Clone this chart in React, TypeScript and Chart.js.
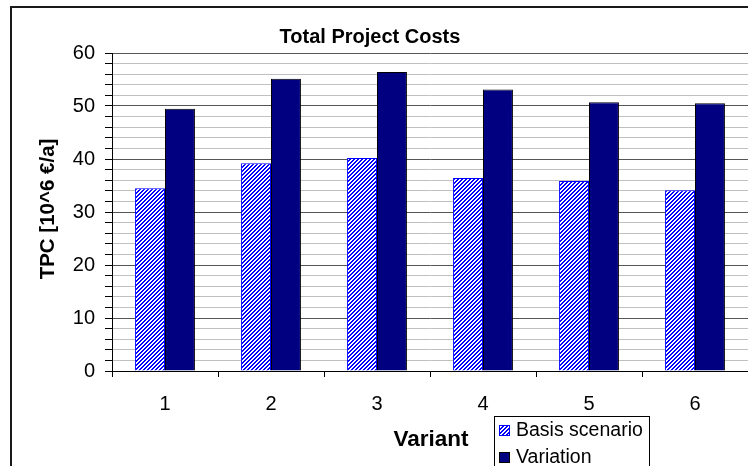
import React, { useEffect, useRef } from "react";
import { Chart, registerables } from "chart.js";

Chart.register(...registerables);

const categories = ["1", "2", "3", "4", "5", "6"];
const basisScenario = [34.5, 39.2, 40.2, 36.4, 35.85, 34.1];
const variation = [49.5, 55.15, 56.4, 53.1, 50.7, 50.5];
const seriesNames = ["Basis scenario", "Variation"];
const chartTitle = "Total Project Costs";
const xTitle = "Variant";
const yTitle = "TPC [10^6 €/a]";
const yMin = 0;
const yMax = 60;
const yStep = 2;
const yLabelStep = 10;

const FONT = "'Liberation Sans', Arial, sans-serif";
const NAVY = "#000080";
const BLUE = "#0000ff";

function makeHatch(): CanvasPattern | string {
  const tile = document.createElement("canvas");
  tile.width = 4;
  tile.height = 4;
  const c = tile.getContext("2d");
  if (!c) return BLUE;
  const img = c.createImageData(4, 4);
  for (let y = 0; y < 4; y++) {
    for (let x = 0; x < 4; x++) {
      const i = (y * 4 + x) * 4;
      const on = (x + y) % 4 < 2;
      img.data[i] = on ? 0 : 255;
      img.data[i + 1] = on ? 0 : 255;
      img.data[i + 2] = 255;
      img.data[i + 3] = 255;
    }
  }
  c.putImageData(img, 0, 0);
  const p = c.createPattern(tile, "repeat");
  return p || BLUE;
}

export default function App() {
  const ref = useRef<HTMLCanvasElement | null>(null);

  useEffect(() => {
    const canvas = ref.current;
    if (!canvas) return;
    const hatch = makeHatch();

    const decor = {
      id: "decor",
      beforeDraw(chart: any) {
        const ctx = chart.ctx;
        ctx.save();
        ctx.fillStyle = "#ffffff";
        ctx.fillRect(0, 0, chart.width, chart.height);
        ctx.strokeStyle = "#1a1a1a";
        ctx.lineWidth = 2;
        ctx.strokeRect(11, 7, 900, 700);
        ctx.restore();
      },
      afterDraw(chart: any) {
        const ctx = chart.ctx;
        const area = chart.chartArea;
        ctx.save();
        ctx.fillStyle = "#000";
        // title
        ctx.font = `bold 20px ${FONT}`;
        ctx.textAlign = "center";
        ctx.textBaseline = "middle";
        ctx.fillText(chartTitle, 370, 37);
        // x title
        ctx.font = `bold 22.5px ${FONT}`;
        ctx.fillText(xTitle, (area.left + 750) / 2, 440);
        // y title
        ctx.save();
        ctx.translate(48, 209);
        ctx.rotate(-Math.PI / 2);
        ctx.font = `bold 20.5px ${FONT}`;
        ctx.fillText(yTitle, 0, 0);
        ctx.restore();
        // legend
        ctx.fillStyle = "#fff";
        ctx.fillRect(494.5, 416.5, 155, 80);
        ctx.strokeStyle = "#000";
        ctx.lineWidth = 1;
        ctx.strokeRect(494.5, 416.5, 155, 80);
        const rows = [
          { y: 430, fill: hatch, stroke: BLUE },
          { y: 457, fill: NAVY, stroke: "#000" },
        ];
        ctx.font = `19.5px ${FONT}`;
        ctx.textAlign = "left";
        ctx.textBaseline = "middle";
        rows.forEach((r, i) => {
          ctx.fillStyle = r.fill as any;
          ctx.fillRect(499, r.y - 5, 11, 11);
          ctx.strokeStyle = r.stroke;
          ctx.strokeRect(499.5, r.y - 4.5, 10, 10);
          ctx.fillStyle = "#000";
          ctx.fillText(seriesNames[i], 516, r.y + 1);
        });
        ctx.restore();
      },
    };

    const chart = new Chart(canvas, {
      type: "bar",
      data: {
        labels: categories,
        datasets: [
          {
            label: seriesNames[0],
            data: basisScenario,
            backgroundColor: hatch as any,
            borderColor: BLUE,
            borderWidth: 1,
            categoryPercentage: 0.565,
            barPercentage: 1,
          },
          {
            label: seriesNames[1],
            data: variation,
            backgroundColor: NAVY,
            borderColor: "#000",
            borderWidth: 1,
            categoryPercentage: 0.565,
            barPercentage: 1,
          },
        ],
      },
      options: {
        responsive: false,
        animation: false,
        devicePixelRatio: 1,
        layout: { padding: { left: 0, top: 53, right: 0, bottom: 0 } },
        plugins: {
          legend: { display: false },
          title: { display: false },
          tooltip: { enabled: false },
        },
        scales: {
          x: {
            afterFit(scale: any) {
              scale.height = 95;
            },
            grid: {
              drawOnChartArea: false,
              drawTicks: true,
              tickLength: 6,
              color: "#000",
              tickColor: "#000",
              offset: true,
            },
            border: { color: "#000", width: 1 },
            ticks: {
              color: "#000",
              font: { family: FONT, size: 20 },
              padding: 15,
            },
          },
          y: {
            min: yMin,
            max: yMax,
            afterFit(scale: any) {
              scale.width = 112;
            },
            grid: {
              color: (c: any) =>
                c.tick && c.tick.value % yLabelStep === 0 ? "#555555" : "#c0c0c0",
              tickColor: "#000",
              tickLength: 7,
              drawTicks: true,
            },
            border: { color: "#000", width: 1 },
            ticks: {
              stepSize: yStep,
              autoSkip: false,
              color: "#000",
              font: { family: FONT, size: 20 },
              padding: 10,
              callback: (v: any) => (Number(v) % yLabelStep === 0 ? String(v) : ""),
            },
          },
        },
      },
      plugins: [decor],
    });

    return () => chart.destroy();
  }, []);

  return (
    <canvas
      ref={ref}
      width={748}
      height={466}
      style={{ position: "absolute", left: 0, top: 0, width: 748, height: 466 }}
    />
  );
}
